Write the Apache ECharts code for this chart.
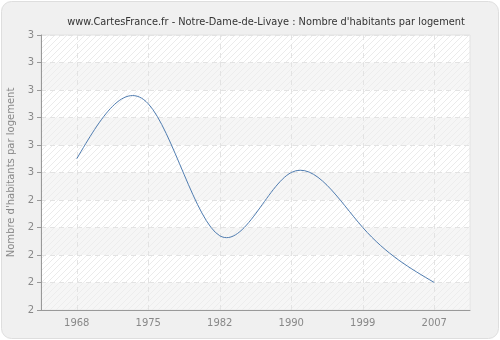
<!DOCTYPE html>
<html>
<head>
<meta charset="utf-8">
<script src="https://cdn.jsdelivr.net/npm/echarts@6/dist/echarts.min.js"></script>
<style>html,body{margin:0;padding:0;background:#fff;}#c{width:500px;height:340px;}</style>
</head>
<body>
<div id="c"></div>
<script>
const years = ['1968', '1975', '1982', '1990', '1999', '2007'];
const values = [2.55, 2.75, 2.27, 2.50, 2.30, 2.10];
const yTickLabels = ['2', '2', '2', '2', '2', '3', '3', '3', '3', '3', '3'];
const titleText = "www.CartesFrance.fr - Notre-Dame-de-Livaye : Nombre d'habitants par logement";
const yAxisName = "Nombre d'habitants par logement";

const pc = document.createElement('canvas');
pc.width = 6; pc.height = 6;
const ctx = pc.getContext('2d');
ctx.fillStyle = '#ffffff';
ctx.fillRect(0, 0, 6, 6);
ctx.strokeStyle = '#ebebeb';
ctx.lineWidth = 1;
ctx.beginPath();
ctx.moveTo(-1, 7); ctx.lineTo(7, -1);
ctx.moveTo(-4, 4); ctx.lineTo(4, -4);
ctx.moveTo(2, 10); ctx.lineTo(10, 2);
ctx.stroke();

// natural cubic spline through pixel points, returned as SVG path data
function splinePath(pts) {
  const n = pts.length;
  const h = [], M = new Array(n).fill(0);
  for (let i = 0; i < n - 1; i++) h.push(pts[i + 1][0] - pts[i][0]);
  if (n > 2) {
    const a = [], b = [], c = [], d = [];
    for (let i = 1; i < n - 1; i++) {
      a.push(h[i - 1]); b.push(2 * (h[i - 1] + h[i])); c.push(h[i]);
      d.push(6 * ((pts[i + 1][1] - pts[i][1]) / h[i] - (pts[i][1] - pts[i - 1][1]) / h[i - 1]));
    }
    const m = b.length;
    for (let i = 1; i < m; i++) {
      const w = a[i] / b[i - 1];
      b[i] -= w * c[i - 1]; d[i] -= w * d[i - 1];
    }
    const sol = new Array(m);
    sol[m - 1] = d[m - 1] / b[m - 1];
    for (let i = m - 2; i >= 0; i--) sol[i] = (d[i] - c[i] * sol[i + 1]) / b[i];
    for (let i = 0; i < m; i++) M[i + 1] = sol[i];
  }
  let p = 'M' + pts[0][0] + ',' + pts[0][1];
  for (let i = 0; i < n - 1; i++) {
    const hi = h[i], x0 = pts[i][0], y0 = pts[i][1], x1 = pts[i + 1][0], y1 = pts[i + 1][1];
    const s = (y1 - y0) / hi;
    const d0 = s - hi * (2 * M[i] + M[i + 1]) / 6;
    const d1 = s + hi * (M[i] + 2 * M[i + 1]) / 6;
    p += 'C' + (x0 + hi / 3) + ',' + (y0 + d0 * hi / 3) + ',' +
         (x1 - hi / 3) + ',' + (y1 - d1 * hi / 3) + ',' + x1 + ',' + y1;
  }
  return p;
}

const chart = echarts.init(document.getElementById('c'), null, {renderer: 'canvas'});
chart.setOption({
  backgroundColor: '#ffffff',
  animation: false,
  graphic: [{
    type: 'rect', left: 1, top: 1, z: -10,
    shape: {width: 497, height: 337, r: 10},
    style: {fill: '#f0f0f0', stroke: '#dedede', lineWidth: 1}
  }],
  title: {
    text: titleText, left: 261, top: 12, textAlign: 'center',
    textStyle: {fontFamily: 'DejaVu Sans', fontSize: 9.8, fontWeight: 'normal', color: '#333'}
  },
  grid: {
    left: 41, right: 30, top: 35, bottom: 30,
    containLabel: false, outerBoundsMode: 'none',
    show: true,
    backgroundColor: {image: pc, repeat: 'repeat'},
    borderColor: '#e2e2e2', borderWidth: 1
  },
  xAxis: {
    type: 'category', data: years, boundaryGap: true,
    axisLine: {lineStyle: {color: '#999'}},
    axisTick: {alignWithLabel: true, length: 5, lineStyle: {color: '#999'}},
    axisLabel: {color: '#888', fontFamily: 'DejaVu Sans', fontSize: 10, margin: 8},
    splitLine: {show: true, alignWithLabel: true, lineStyle: {color: '#e3e3e3', type: [5, 4]}}
  },
  yAxis: {
    type: 'value', min: 2, max: 3, interval: 0.1,
    name: yAxisName, nameLocation: 'middle', nameGap: 25,
    nameTextStyle: {color: '#888', fontFamily: 'DejaVu Sans', fontSize: 10},
    axisLine: {show: true, lineStyle: {color: '#999'}},
    axisTick: {show: true, length: 4, lineStyle: {color: '#999'}},
    axisLabel: {color: '#888', fontFamily: 'DejaVu Sans', fontSize: 10, margin: 7,
      formatter: (v, i) => yTickLabels[i]},
    splitLine: {show: true, lineStyle: {color: '#e3e3e3', type: [5, 4]}},
    splitArea: {show: true, areaStyle: {color: ['rgba(238,238,238,0.55)', 'rgba(255,255,255,0)']}}
  },
  series: [{
    type: 'custom',
    coordinateSystem: 'cartesian2d',
    data: values.map((v, i) => [i, v]),
    encode: {x: 0, y: 1},
    renderItem: function (params, api) {
      if (params.dataIndex !== 0) return null;
      const pts = values.map((v, i) => api.coord([i, v]));
      return {
        type: 'path',
        shape: {pathData: splinePath(pts)},
        style: {stroke: '#4f7cb0', fill: null, lineWidth: 1}
      };
    }
  }]
});
</script>
</body>
</html>
